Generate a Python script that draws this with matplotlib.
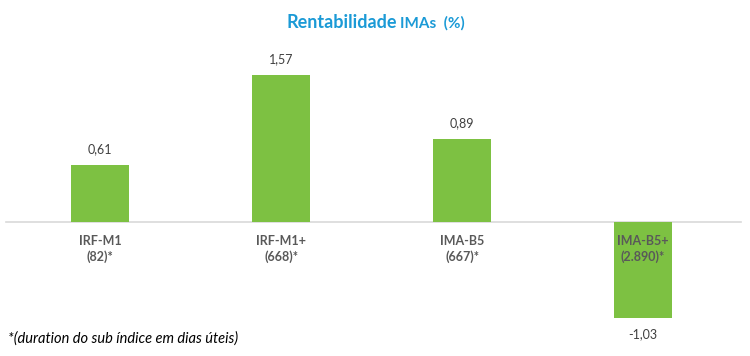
import matplotlib
matplotlib.use("Agg")
import matplotlib.pyplot as plt

categories = ["IRF-M1\n(82)*", "IRF-M1+\n(668)*", "IMA-B5\n(667)*", "IMA-B5+\n(2.890)*"]
values = [0.61, 1.57, 0.89, -1.03]
value_labels = ["0,61", "1,57", "0,89", "-1,03"]

plt.rcParams['font.family'] = ['Lato', 'DejaVu Sans']

fig = plt.figure(figsize=(7.5, 3.56), dpi=100)
W, H = 750, 356
ax = fig.add_axes([9.5 / W, (356 - 325) / H, (733.5 - 9.5) / W, (325 - 53.5) / H])
x = list(range(len(values)))
ax.bar(x, values, width=0.315, color="#7DC142", zorder=2)
ax.set_xlim(-0.5, 3.5)
ax.set_ylim(-1.1, 1.8)
ax.axhline(0, color="#D9D9D9", lw=1.2, zorder=1, xmin=-0.005, xmax=1.01, clip_on=False)
for s in ax.spines.values():
    s.set_visible(False)
ax.set_xticks([])
ax.set_yticks([])

for xi, v, lab in zip(x, values, value_labels):
    if v >= 0:
        ax.annotate(lab, (xi, v), xytext=(0, 7), textcoords="offset points",
                    ha="center", va="bottom", fontsize=9, color="#404040")
    else:
        ax.annotate(lab, (xi, v), xytext=(0, -7), textcoords="offset points",
                    ha="center", va="top", fontsize=9, color="#404040")
    ax.annotate(categories[xi], (xi, 0), xytext=(0, -9), textcoords="offset points",
                ha="center", va="top", fontsize=9, color="#595959", fontweight="bold",
                linespacing=1.4, zorder=3)

fig.text(397 / W, 1 - 22 / H, "Rentabilidade", ha="right", va="center",
         fontsize=13, fontweight="bold", color="#1B9AD6")
fig.text(400 / W, 1 - 23 / H, "IMAs  (%)", ha="left", va="center",
         fontsize=11, fontweight="bold", color="#1B9AD6")
fig.text(8 / W, 1 - 339 / H, "*(duration do sub índice em dias úteis)", ha="left", va="center",
         fontsize=10.5, style="italic", color="#000000")

fig.savefig("out.png", dpi=100, facecolor="white")
